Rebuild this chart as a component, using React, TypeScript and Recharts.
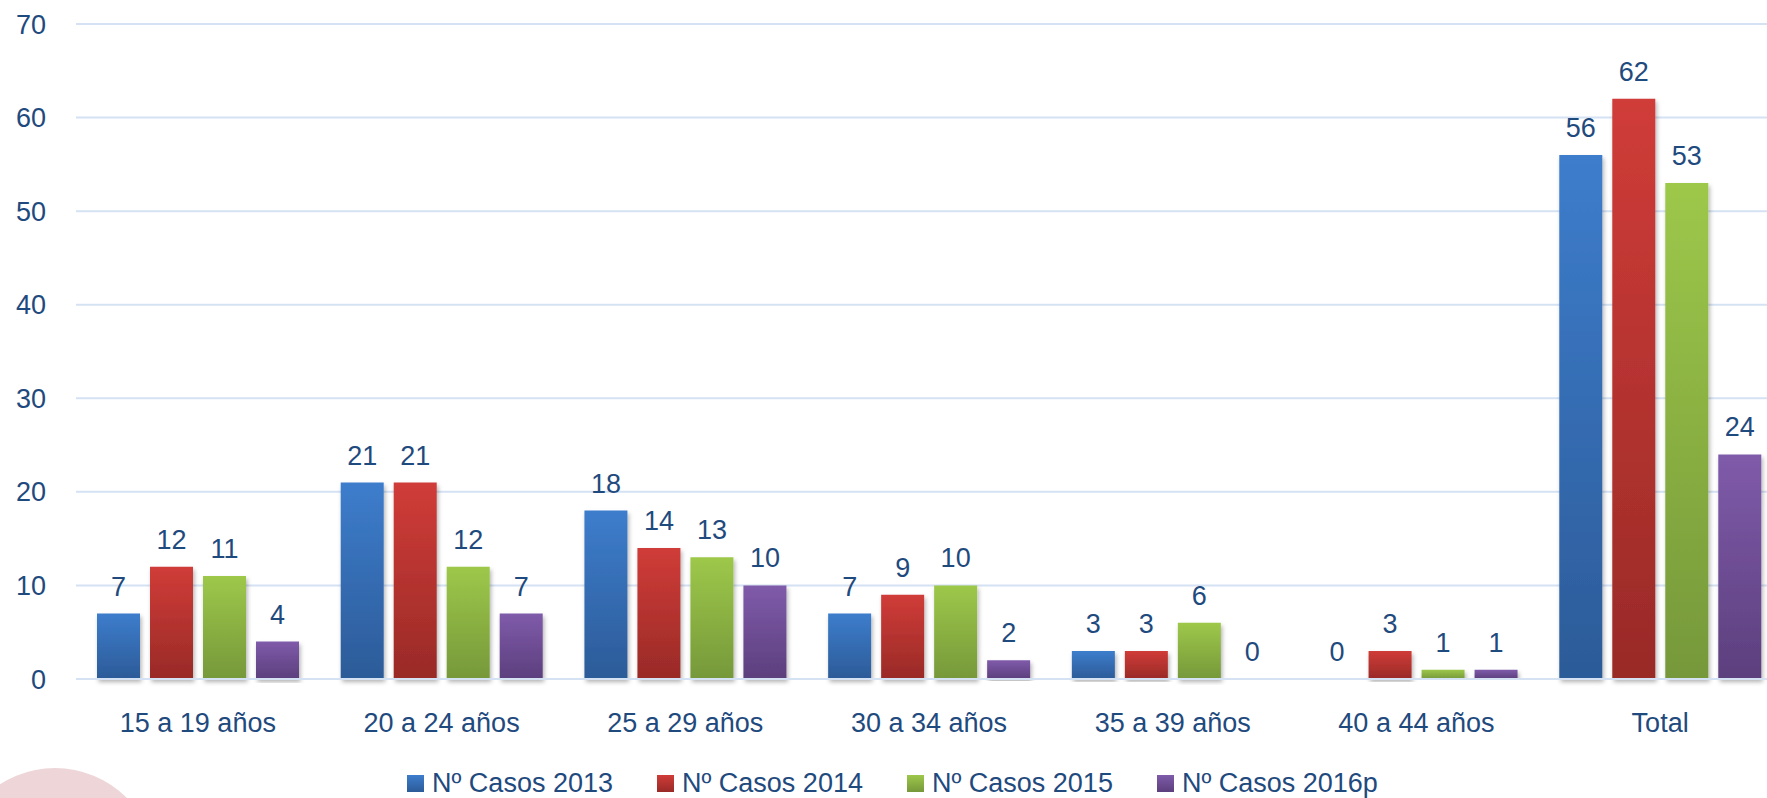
import { BarChart, Bar, XAxis, YAxis, CartesianGrid, Legend, LabelList } from "recharts";

const categories = ["15 a 19 años", "20 a 24 años", "25 a 29 años", "30 a 34 años", "35 a 39 años", "40 a 44 años", "Total"];
const casos2013 = [7, 21, 18, 7, 3, 0, 56];
const casos2014 = [12, 21, 14, 9, 3, 3, 62];
const casos2015 = [11, 12, 13, 10, 6, 1, 53];
const casos2016p = [4, 7, 10, 2, 0, 1, 24];
const yTicks = [0, 10, 20, 30, 40, 50, 60, 70];

const series = [
  { key: "c2013", name: "Nº Casos 2013", top: "#3D7DCC", bottom: "#2C5B98" },
  { key: "c2014", name: "Nº Casos 2014", top: "#D03C38", bottom: "#992A27" },
  { key: "c2015", name: "Nº Casos 2015", top: "#9DC84A", bottom: "#76983A" },
  { key: "c2016", name: "Nº Casos 2016p", top: "#7F5BAA", bottom: "#5C3F7D" },
];

const data = categories.map((name, i) => ({
  name,
  c2013: casos2013[i],
  c2014: casos2014[i],
  c2015: casos2015[i],
  c2016: casos2016p[i],
}));

const TEXT = "#1F4A7E";
const FONT = "'Liberation Sans', Arial, sans-serif";

// zero bars still need their "0" label, so give them a hair of height
const minSize = (value: number) => (value === 0 ? 0.01 : 0);

function LegendContent() {
  return (
    <div style={{ display: "flex", alignItems: "center", fontFamily: FONT, fontSize: 27, color: TEXT, height: 30 }}>
      {series.map((s) => (
        <div key={s.key} style={{ display: "flex", alignItems: "center", marginRight: 44 }}>
          <span
            style={{
              display: "inline-block",
              width: 17,
              height: 17,
              marginRight: 8,
              background: `linear-gradient(${s.top}, ${s.bottom})`,
            }}
          />
          <span style={{ whiteSpace: "nowrap" }}>{s.name}</span>
        </div>
      ))}
    </div>
  );
}

export default function App() {
  return (
    <div style={{ position: "absolute", left: 0, top: 0, width: 1767, height: 798, overflow: "hidden", background: "#fff" }}>
      <div
        style={{
          position: "absolute",
          left: 55 - 101,
          top: 869 - 101,
          width: 202,
          height: 202,
          borderRadius: "50%",
          background: "#EDD5D8",
        }}
      />
      <BarChart
        width={1790}
        height={798}
        data={data}
        margin={{ top: 24, right: 8, left: 0, bottom: 0 }}
        barCategoryGap={21}
        barGap={10}
        style={{ position: "absolute", left: 0, top: 0 }}
      >
        <defs>
          {series.map((s) => (
            <linearGradient key={s.key} id={`g-${s.key}`} x1="0" y1="0" x2="0" y2="1">
              <stop offset="0%" stopColor={s.top} />
              <stop offset="100%" stopColor={s.bottom} />
            </linearGradient>
          ))}
          <filter id="barShadow" x="-20%" y="-5%" width="140%" height="115%">
            <feDropShadow dx="1.5" dy="3" stdDeviation="2" floodColor="#000" floodOpacity="0.3" />
          </filter>
        </defs>
        <CartesianGrid vertical={false} stroke="#D5E2F3" strokeWidth={2} />
        <XAxis
          dataKey="name"
          axisLine={{ stroke: "#D5E2F3", strokeWidth: 2 }}
          tickLine={false}
          tickSize={0}
          tickMargin={34}
          height={89}
          interval={0}
          tick={{ fill: TEXT, fontSize: 27, fontFamily: FONT }}
        />
        <YAxis
          domain={[0, 70]}
          ticks={yTicks}
          axisLine={false}
          tickLine={false}
          tickSize={0}
          tickMargin={30}
          width={76}
          tick={{ fill: TEXT, fontSize: 27, fontFamily: FONT }}
        />
        <Legend
          verticalAlign="bottom"
          height={30}
          content={<LegendContent />}
          wrapperStyle={{ left: 407, width: 1200 }}
        />
        {series.map((s) => (
          <Bar
            key={s.key}
            dataKey={s.key}
            name={s.name}
            fill={`url(#g-${s.key})`}
            filter="url(#barShadow)"
            minPointSize={minSize}
            isAnimationActive={false}
          >
            <LabelList
              dataKey={s.key}
              position="top"
              offset={18}
              fill={TEXT}
              fontSize={27}
              fontFamily={FONT}
            />
          </Bar>
        ))}
      </BarChart>
    </div>
  );
}
